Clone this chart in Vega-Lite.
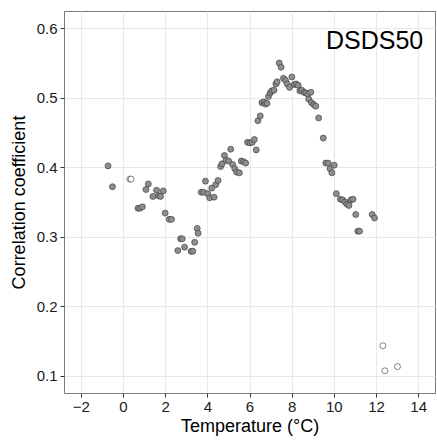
{
  "$schema": "https://vega.github.io/schema/vega-lite/v6.json",
  "autosize": {"type": "none"},
  "padding": {"left": 64, "top": 11, "right": 2, "bottom": 50},
  "width": 371,
  "height": 382,
  "background": "white",
  "config": {
    "font": "Liberation Sans",
    "view": {"stroke": "#7a7a7a", "strokeWidth": 1}
  },
  "layer": [
    {
      "data": {"values": [
        {"t": -0.71, "r": 0.402, "kind": "filled"},
        {"t": -0.50, "r": 0.372, "kind": "filled"},
        {"t": 0.32, "r": 0.383, "kind": "open"},
        {"t": 0.38, "r": 0.383, "kind": "open"},
        {"t": 0.71, "r": 0.341, "kind": "filled"},
        {"t": 0.80, "r": 0.341, "kind": "filled"},
        {"t": 0.92, "r": 0.343, "kind": "filled"},
        {"t": 1.09, "r": 0.368, "kind": "filled"},
        {"t": 1.20, "r": 0.376, "kind": "filled"},
        {"t": 1.42, "r": 0.358, "kind": "filled"},
        {"t": 1.59, "r": 0.367, "kind": "filled"},
        {"t": 1.69, "r": 0.359, "kind": "filled"},
        {"t": 1.78, "r": 0.358, "kind": "filled"},
        {"t": 1.91, "r": 0.366, "kind": "filled"},
        {"t": 2.00, "r": 0.334, "kind": "filled"},
        {"t": 2.19, "r": 0.325, "kind": "filled"},
        {"t": 2.30, "r": 0.325, "kind": "filled"},
        {"t": 2.60, "r": 0.280, "kind": "filled"},
        {"t": 2.73, "r": 0.297, "kind": "filled"},
        {"t": 2.81, "r": 0.297, "kind": "filled"},
        {"t": 2.92, "r": 0.285, "kind": "filled"},
        {"t": 3.23, "r": 0.279, "kind": "filled"},
        {"t": 3.31, "r": 0.279, "kind": "filled"},
        {"t": 3.40, "r": 0.292, "kind": "filled"},
        {"t": 3.52, "r": 0.312, "kind": "filled"},
        {"t": 3.56, "r": 0.305, "kind": "filled"},
        {"t": 3.71, "r": 0.364, "kind": "filled"},
        {"t": 3.82, "r": 0.364, "kind": "filled"},
        {"t": 3.91, "r": 0.380, "kind": "filled"},
        {"t": 4.02, "r": 0.362, "kind": "filled"},
        {"t": 4.11, "r": 0.356, "kind": "filled"},
        {"t": 4.21, "r": 0.370, "kind": "filled"},
        {"t": 4.32, "r": 0.357, "kind": "filled"},
        {"t": 4.40, "r": 0.375, "kind": "filled"},
        {"t": 4.51, "r": 0.381, "kind": "filled"},
        {"t": 4.63, "r": 0.401, "kind": "filled"},
        {"t": 4.70, "r": 0.405, "kind": "filled"},
        {"t": 4.81, "r": 0.417, "kind": "filled"},
        {"t": 4.89, "r": 0.410, "kind": "filled"},
        {"t": 5.01, "r": 0.409, "kind": "filled"},
        {"t": 5.11, "r": 0.426, "kind": "filled"},
        {"t": 5.20, "r": 0.404, "kind": "filled"},
        {"t": 5.30, "r": 0.398, "kind": "filled"},
        {"t": 5.39, "r": 0.393, "kind": "filled"},
        {"t": 5.52, "r": 0.392, "kind": "filled"},
        {"t": 5.61, "r": 0.409, "kind": "filled"},
        {"t": 5.72, "r": 0.408, "kind": "filled"},
        {"t": 5.82, "r": 0.406, "kind": "filled"},
        {"t": 5.91, "r": 0.436, "kind": "filled"},
        {"t": 6.02, "r": 0.435, "kind": "filled"},
        {"t": 6.13, "r": 0.436, "kind": "filled"},
        {"t": 6.23, "r": 0.440, "kind": "filled"},
        {"t": 6.32, "r": 0.425, "kind": "filled"},
        {"t": 6.40, "r": 0.467, "kind": "filled"},
        {"t": 6.51, "r": 0.474, "kind": "filled"},
        {"t": 6.59, "r": 0.493, "kind": "filled"},
        {"t": 6.69, "r": 0.494, "kind": "filled"},
        {"t": 6.75, "r": 0.491, "kind": "filled"},
        {"t": 6.83, "r": 0.492, "kind": "filled"},
        {"t": 6.90, "r": 0.502, "kind": "filled"},
        {"t": 6.98, "r": 0.507, "kind": "filled"},
        {"t": 7.06, "r": 0.510, "kind": "filled"},
        {"t": 7.16, "r": 0.511, "kind": "filled"},
        {"t": 7.25, "r": 0.520, "kind": "filled"},
        {"t": 7.31, "r": 0.523, "kind": "filled"},
        {"t": 7.41, "r": 0.550, "kind": "filled"},
        {"t": 7.50, "r": 0.544, "kind": "filled"},
        {"t": 7.61, "r": 0.528, "kind": "filled"},
        {"t": 7.71, "r": 0.525, "kind": "filled"},
        {"t": 7.79, "r": 0.520, "kind": "filled"},
        {"t": 7.90, "r": 0.515, "kind": "filled"},
        {"t": 8.01, "r": 0.530, "kind": "filled"},
        {"t": 8.12, "r": 0.519, "kind": "filled"},
        {"t": 8.21, "r": 0.520, "kind": "filled"},
        {"t": 8.31, "r": 0.518, "kind": "filled"},
        {"t": 8.39, "r": 0.510, "kind": "filled"},
        {"t": 8.48, "r": 0.511, "kind": "filled"},
        {"t": 8.58, "r": 0.508, "kind": "filled"},
        {"t": 8.67, "r": 0.507, "kind": "filled"},
        {"t": 8.77, "r": 0.505, "kind": "filled"},
        {"t": 8.81, "r": 0.498, "kind": "filled"},
        {"t": 8.91, "r": 0.508, "kind": "filled"},
        {"t": 8.94, "r": 0.493, "kind": "filled"},
        {"t": 9.05, "r": 0.490, "kind": "filled"},
        {"t": 9.14, "r": 0.488, "kind": "filled"},
        {"t": 9.28, "r": 0.471, "kind": "filled"},
        {"t": 9.50, "r": 0.442, "kind": "filled"},
        {"t": 9.62, "r": 0.406, "kind": "filled"},
        {"t": 9.73, "r": 0.406, "kind": "filled"},
        {"t": 9.82, "r": 0.398, "kind": "filled"},
        {"t": 9.91, "r": 0.392, "kind": "filled"},
        {"t": 10.02, "r": 0.403, "kind": "filled"},
        {"t": 10.12, "r": 0.362, "kind": "filled"},
        {"t": 10.31, "r": 0.354, "kind": "filled"},
        {"t": 10.42, "r": 0.353, "kind": "filled"},
        {"t": 10.53, "r": 0.350, "kind": "filled"},
        {"t": 10.62, "r": 0.347, "kind": "filled"},
        {"t": 10.72, "r": 0.345, "kind": "filled"},
        {"t": 10.81, "r": 0.353, "kind": "filled"},
        {"t": 10.91, "r": 0.354, "kind": "filled"},
        {"t": 11.04, "r": 0.332, "kind": "filled"},
        {"t": 11.14, "r": 0.308, "kind": "filled"},
        {"t": 11.22, "r": 0.308, "kind": "filled"},
        {"t": 11.82, "r": 0.332, "kind": "filled"},
        {"t": 11.93, "r": 0.327, "kind": "filled"},
        {"t": 12.33, "r": 0.143, "kind": "open"},
        {"t": 12.42, "r": 0.107, "kind": "open"},
        {"t": 13.02, "r": 0.113, "kind": "open"}
      ]},
      "mark": {"type": "point", "shape": "circle", "filled": true, "size": 36, "stroke": "#333333", "strokeWidth": 0.6, "opacity": 1},
      "encoding": {
        "x": {
          "field": "t", "type": "quantitative",
          "scale": {"domain": [-2.8, 14.8], "nice": false, "zero": false},
          "axis": {
            "title": "Temperature (°C)",
            "values": [-2, -1, 0, 1, 2, 3, 4, 5, 6, 7, 8, 9, 10, 11, 12, 13, 14],
            "labelExpr": "datum.value % 2 == 0 ? datum.label : ''",
            "domain": false,
            "grid": true,
            "gridColor": {"condition": {"test": "datum.value % 2 == 0", "value": "#e8e8e8"}, "value": "#f3f3f3"},
            "gridWidth": {"condition": {"test": "datum.value % 2 == 0", "value": 1}, "value": 0.7},
            "tickOpacity": {"condition": {"test": "datum.value % 2 == 0", "value": 1}, "value": 0},
            "tickColor": "#333333",
            "tickSize": 4,
            "labelFontSize": 15,
            "labelColor": "#1a1a1a",
            "labelPadding": 2,
            "titleFontSize": 18,
            "titleFontWeight": "normal",
            "titleColor": "#000000",
            "titlePadding": 3
          }
        },
        "y": {
          "field": "r", "type": "quantitative",
          "scale": {"domain": [0.075, 0.625], "nice": false, "zero": false},
          "axis": {
            "title": "Correlation coefficient",
            "values": [0.1, 0.15, 0.2, 0.25, 0.3, 0.35, 0.4, 0.45, 0.5, 0.55, 0.6],
            "format": ".1f",
            "labelExpr": "round(datum.value * 100) % 10 == 0 ? datum.label : ''",
            "domain": false,
            "grid": true,
            "gridColor": {"condition": {"test": "round(datum.value * 100) % 10 == 0", "value": "#e8e8e8"}, "value": "#f3f3f3"},
            "gridWidth": {"condition": {"test": "round(datum.value * 100) % 10 == 0", "value": 1}, "value": 0.7},
            "tickOpacity": {"condition": {"test": "round(datum.value * 100) % 10 == 0", "value": 1}, "value": 0},
            "tickColor": "#333333",
            "tickSize": 4,
            "labelFontSize": 15,
            "labelColor": "#1a1a1a",
            "labelPadding": 3,
            "titleFontSize": 18,
            "titleFontWeight": "normal",
            "titleColor": "#000000",
            "titlePadding": 8
          }
        },
        "fill": {
          "field": "kind", "type": "nominal",
          "scale": {"domain": ["filled", "open"], "range": ["#8e8e8e", "#ffffff"]},
          "legend": null
        }
      }
    },
    {
      "data": {"values": [{"label": "DSDS50", "t": 14.24, "r": 0.571}]},
      "mark": {"type": "text", "align": "right", "baseline": "alphabetic", "fontSize": 25, "fontWeight": "normal", "font": "Liberation Sans", "fill": "#000000"},
      "encoding": {
        "text": {"field": "label", "type": "nominal"},
        "x": {"field": "t", "type": "quantitative"},
        "y": {"field": "r", "type": "quantitative"}
      }
    }
  ]
}
